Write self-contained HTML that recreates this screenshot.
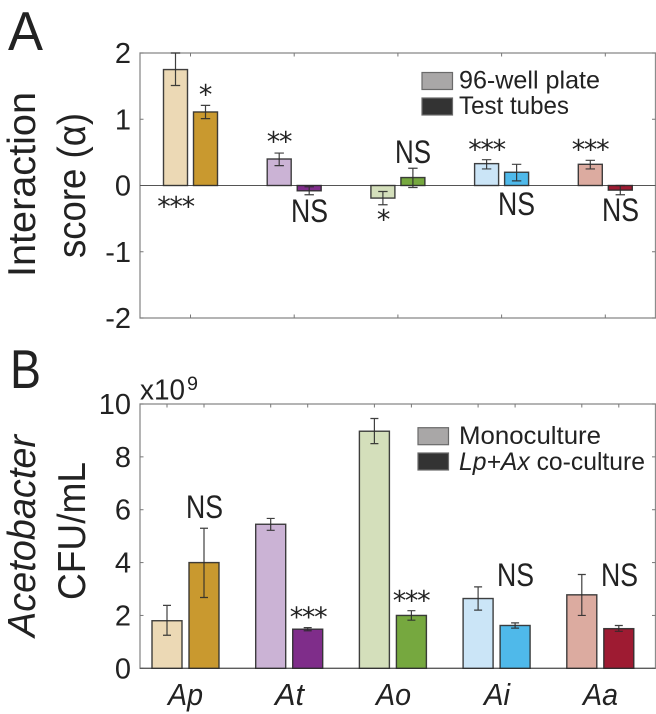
<!DOCTYPE html>
<html>
<head>
<meta charset="utf-8">
<style>
html,body{margin:0;padding:0;background:#fff;}
svg{display:block;}
text{font-family:"Liberation Sans",sans-serif;fill:#222;}
.star{font-family:"DejaVu Sans",sans-serif;font-size:27px;text-anchor:middle;letter-spacing:-1.3px;}
.ns{font-size:32px;}
.tick{font-size:29px;text-anchor:end;}
.leg{font-size:25px;}
</style>
</head>
<body>
<svg id="fig" xmlns="http://www.w3.org/2000/svg" width="656" height="714" viewBox="0 0 656 714">
  <g id="panelA"></g>
  <g id="panelB"></g>

  <text x="8" y="50" font-size="55" textLength="35" lengthAdjust="spacingAndGlyphs">A</text>
  <text x="10" y="388" font-size="55" textLength="31" lengthAdjust="spacingAndGlyphs">B</text>

  <text transform="translate(35,277) rotate(-90)" font-size="39" textLength="185" lengthAdjust="spacingAndGlyphs">Interaction</text>
  <text transform="translate(85,258) rotate(-90)" font-size="39" textLength="145" lengthAdjust="spacingAndGlyphs">score (α)</text>
  <text transform="translate(35,637) rotate(-90)" font-size="39" font-style="italic" textLength="202" lengthAdjust="spacingAndGlyphs">Acetobacter</text>
  <text transform="translate(85,600) rotate(-90)" font-size="39" textLength="138" lengthAdjust="spacingAndGlyphs">CFU/mL</text>

  <text x="140" y="399.3" font-size="29" textLength="45" lengthAdjust="spacingAndGlyphs">x10</text>
  <text x="187" y="390" font-size="19" textLength="11" lengthAdjust="spacingAndGlyphs">9</text>

  <g>
    <rect x="422" y="72.5" width="30.5" height="17" fill="#a9a7a7" stroke="#6a6a6a" stroke-width="1.2"/>
    <rect x="422" y="98" width="30.5" height="17" fill="#333333" stroke="#6a6a6a" stroke-width="1.2"/>
    <text class="leg" x="459" y="88.5" textLength="141" lengthAdjust="spacingAndGlyphs">96-well plate</text>
    <text class="leg" x="459" y="114" textLength="110" lengthAdjust="spacingAndGlyphs">Test tubes</text>
  </g>
  <g>
    <rect x="418" y="427.7" width="30.5" height="17" fill="#a9a7a7" stroke="#6a6a6a" stroke-width="1.2"/>
    <rect x="418" y="453" width="30.5" height="17" fill="#333333" stroke="#6a6a6a" stroke-width="1.2"/>
    <text class="leg" x="459" y="444" textLength="142" lengthAdjust="spacingAndGlyphs">Monoculture</text>
    <text class="leg" x="459" y="470" textLength="186" lengthAdjust="spacingAndGlyphs"><tspan font-style="italic">Lp+Ax</tspan> co-culture</text>
  </g>

  <g>
    <text class="star" x="175.5" y="215.5">***</text>
    <text class="star" x="205" y="103.5">*</text>
    <text class="star" x="279" y="150.5">**</text>
    <text class="ns" x="291" y="222" textLength="37" lengthAdjust="spacingAndGlyphs">NS</text>
    <text class="star" x="383" y="228.5">*</text>
    <text class="ns" x="395" y="163" textLength="36" lengthAdjust="spacingAndGlyphs">NS</text>
    <text class="star" x="486.5" y="158.5">***</text>
    <text class="ns" x="498" y="215" textLength="37" lengthAdjust="spacingAndGlyphs">NS</text>
    <text class="star" x="590" y="158.5">***</text>
    <text class="ns" x="602" y="221" textLength="37" lengthAdjust="spacingAndGlyphs">NS</text>
  </g>
  <g>
    <text class="ns" x="186" y="518" textLength="37" lengthAdjust="spacingAndGlyphs">NS</text>
    <text class="star" x="308" y="626">***</text>
    <text class="star" x="411" y="609.5">***</text>
    <text class="ns" x="497" y="586" textLength="37" lengthAdjust="spacingAndGlyphs">NS</text>
    <text class="ns" x="601" y="586" textLength="37" lengthAdjust="spacingAndGlyphs">NS</text>
  </g>
</svg>
<script>
const categories = ['Ap', 'At', 'Ao', 'Ai', 'Aa'];
const lightColors = ['#ecd9b5', '#cbb3d5', '#d4dfbb', '#cbe5f7', '#dcaba0'];
const darkColors = ['#c9992f', '#7f2d8a', '#76a83f', '#4fb9ea', '#9e1b32'];

const plateValues = [1.75, 0.40, -0.19, 0.33, 0.32];
const plateLow = [1.51, 0.30, -0.29, 0.25, 0.25];
const plateHigh = [2.00, 0.49, -0.09, 0.39, 0.38];
const tubeValues = [1.11, -0.08, 0.12, 0.20, -0.07];
const tubeLow = [1.01, -0.14, -0.03, 0.07, -0.14];
const tubeHigh = [1.21, -0.02, 0.26, 0.32, 0.00];
const ticksA = [2, 1, 0, -1, -2];

const monoValues = [1.80, 5.45, 8.97, 2.64, 2.78];
const monoLow = [1.25, 5.22, 8.50, 2.20, 2.00];
const monoHigh = [2.38, 5.67, 9.45, 3.08, 3.55];
const coValues = [4.00, 1.48, 2.00, 1.62, 1.50];
const coLow = [2.68, 1.42, 1.82, 1.52, 1.40];
const coHigh = [5.30, 1.54, 2.18, 1.72, 1.62];
const ticksB = [10, 8, 6, 4, 2, 0];

const NS = 'http://www.w3.org/2000/svg';
function make(parent, tag, attrs) {
  const el = document.createElementNS(NS, tag);
  for (const k in attrs) el.setAttribute(k, attrs[k]);
  parent.appendChild(el);
  return el;
}

function drawPanel(cfg) {
  const g = document.getElementById(cfg.id);
  const y = v => cfg.top + (cfg.max - v) / (cfg.max - cfg.min) * (cfg.bottom - cfg.top);
  const x = i => cfg.x0 + i * cfg.step;
  const left = 140, right = 655.5;

  const frame = make(g, 'rect', {x: left, y: cfg.top, width: right - left, height: cfg.bottom - cfg.top, fill: 'none', stroke: '#8c8c8c', 'stroke-width': 1.3});
  
  

  cfg.ticks.forEach(t => {
    const ty = y(t);
    const l1 = make(g, 'line', {x1: left, x2: left + 3.5, y1: ty, y2: ty, stroke: '#777', 'stroke-width': 1});
    
    
    const l2 = make(g, 'line', {x1: right - 3.5, x2: right, y1: ty, y2: ty, stroke: '#777', 'stroke-width': 1});
    
    
    const lab = make(g, 'text', {x: 131, y: ty + 10, class: 'tick'});
    
    
    lab.textContent = String(t);
  });

  categories.forEach((c, i) => {
    cfg.tickX(x(i)).forEach(tx => {
      const tt = make(g, 'line', {x1: tx, x2: tx, y1: cfg.top, y2: cfg.top + 3.5, stroke: '#777', 'stroke-width': 1});
      
      
      const tb = make(g, 'line', {x1: tx, x2: tx, y1: cfg.bottom - 3.5, y2: cfg.bottom, stroke: '#777', 'stroke-width': 1});
      
      
    });
  });

  const zero = make(g, 'line', {x1: left, x2: right, y1: y(0), y2: y(0), stroke: '#555', 'stroke-width': 1.1});
  
  

  cfg.series.forEach((s, si) => {
    s.values.forEach((v, i) => {
      const cx = x(i) + (si === 0 ? -cfg.offset : cfg.offset);
      const y0 = y(0), yv = y(v);
      const bar = make(g, 'rect', {
        x: cx - cfg.width / 2, y: Math.min(y0, yv), width: cfg.width, height: Math.abs(y0 - yv),
        fill: s.colors[i], stroke: '#2b2b2b', 'stroke-opacity': 0.9, 'stroke-width': 1.4
      });
      
      
      const yl = y(s.low[i]), yh = y(s.high[i]);
      const err = make(g, 'path', {
        d: 'M' + (cx - cfg.cap) + ' ' + yh + 'H' + (cx + cfg.cap) + 'M' + cx + ' ' + yh + 'V' + yl + 'M' + (cx - cfg.cap) + ' ' + yl + 'H' + (cx + cfg.cap),
        fill: 'none', stroke: '#2b2b2b', 'stroke-opacity': 0.9, 'stroke-width': 1.2
      });
      
      
    });
  });
}

drawPanel({
  id: 'panelA', top: 53, bottom: 318, max: 2, min: -2,
  x0: 190.5, step: 103.7, offset: 15, width: 24, cap: 4.7, ticks: ticksA,
  tickX: gx => [gx],
  series: [
    {values: plateValues, low: plateLow, high: plateHigh, colors: lightColors},
    {values: tubeValues, low: tubeLow, high: tubeHigh, colors: darkColors}
  ]
});
drawPanel({
  id: 'panelB', top: 404, bottom: 668.3, max: 10, min: 0,
  x0: 185.5, step: 103.7, offset: 18.5, width: 30, cap: 4, ticks: ticksB,
  tickX: gx => [gx - 18.5, gx + 18.5],
  series: [
    {values: monoValues, low: monoLow, high: monoHigh, colors: lightColors},
    {values: coValues, low: coLow, high: coHigh, colors: darkColors}
  ]
});

const fig = document.getElementById('fig');
const labelWidths = [35, 29, 35, 26, 35];
const labelCenters = [185.5, 289.5, 393.5, 497, 600.5];
categories.forEach((c, i) => {
  const t = make(fig, 'text', {x: labelCenters[i] - labelWidths[i] / 2, y: 705, 'font-size': 31, 'font-style': 'italic', textLength: labelWidths[i], lengthAdjust: 'spacingAndGlyphs'});
  
  
  t.textContent = c;
});
</script>
</body>
</html>
